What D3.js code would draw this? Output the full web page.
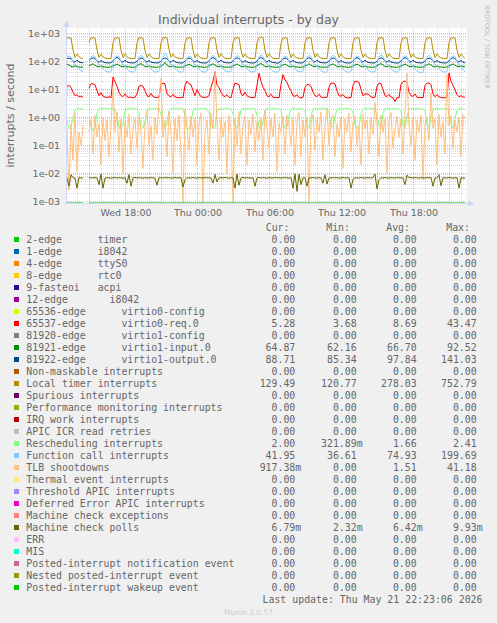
<!DOCTYPE html>
<html><head><meta charset="utf-8">
<script src="https://cdn.jsdelivr.net/npm/d3@7"></script>
<style>
body{margin:0;background:#F0F0F0}
svg{display:block}
</style>
</head><body><svg id="c" width="497" height="623"></svg>
<script>
// ---------------- DATA ----------------
// time axis: 200 samples, 10 minutes apart (two pixels each)
const startTime = Date.UTC(2026, 4, 20, 13, 5);
const endTime = Date.UTC(2026, 4, 21, 22, 25);
const sampleStepMin = 10;
const xTickLabels = ["Wed 18:00", "Thu 00:00", "Thu 06:00", "Thu 12:00", "Thu 18:00"];
const yTickLabels = ["1e-03", "1e-02", "1e-01", "1e+00", "1e+01", "1e+02", "1e+03"];

// Local timer interrupts
const localTimer = [700,705,690,260,140,185,148,131,129, null,null,
480,700,705,690,260,140,182,145,133,130,129,128,
470,695,700,700,250,138,190,148,132,130,127,129,
460,710,705,680,240,140,186,150,131,128,129,130,
460,700,720,700,270,142,188,146,133,131,128,127,
450,690,700,695,250,137,184,149,132,129,130,128,
470,705,710,690,260,141,192,147,130,128,127,129,
480,700,700,700,255,139,186,145,132,130,129,128,
460,700,752,705,250,140,188,150,131,129,127,128,
450,690,700,690,245,138,185,148,133,130,128,129,
470,700,705,700,255,141,190,146,132,128,127,128,
460,710,700,690,260,139,187,149,130,129,128,127,
470,700,705,695,250,140,184,147,131,130,129,128,
480,705,710,700,255,138,189,150,132,128,127,129,
460,700,700,690,250,140,186,145,131,129,128,128,
470,695,705,700,260,139,188,148,133,130,127,128,
470,700,705,690,255,140,185,150,129];

// 81922-edge virtio1-output.0
const virtioOut = [128,132,125,104,95,112,96,92,90, null,null,
108,124,136,127,104,94,109,96,91,90,88,90,
106,128,141,126,103,95,111,97,92,89,88,91,
104,122,133,129,106,96,108,95,91,90,89,90,
107,126,134,125,104,94,112,98,92,90,88,89,
105,123,132,128,105,95,110,96,90,89,88,90,
108,127,138,126,103,96,113,97,92,90,89,91,
106,125,135,127,104,94,109,95,91,89,88,90,
104,129,139,128,105,95,111,97,92,90,87,89,
107,124,133,125,103,96,110,96,91,89,88,90,
105,126,136,127,104,95,112,98,92,90,89,91,
106,123,134,128,106,94,109,96,90,89,88,90,
108,127,137,126,104,95,111,97,91,90,88,89,
105,125,135,127,103,96,110,95,92,89,87,90,
104,126,138,128,105,94,112,97,91,90,88,91,
107,124,133,125,104,95,109,96,92,89,88,90,
106,127,136,127,104,95,110,94,89];

// Function call interrupts
const funcCall = [150,158,145,98,74,72,54,46,43, null,null,
90,142,162,150,101,76,70,56,47,43,42,44,
82,138,158,152,99,74,72,54,45,44,41,46,
78,145,165,148,103,77,69,55,46,42,43,45,
84,140,199,155,100,75,73,57,47,43,42,44,
80,136,157,150,98,73,70,54,45,43,41,46,
83,142,163,149,102,76,71,56,46,44,42,45,
79,139,160,153,100,74,72,55,47,42,43,44,
81,144,168,151,104,78,70,53,45,43,41,45,
85,137,159,147,99,75,69,55,46,44,42,46,
80,141,162,152,101,73,72,57,47,43,40,44,
82,143,166,150,103,76,71,54,45,42,41,45,
78,138,158,149,98,74,70,56,46,43,42,44,
84,145,170,154,102,77,73,55,47,44,41,46,
80,140,161,148,100,75,69,54,45,42,40,43,
83,142,164,151,103,76,71,56,46,43,41,44,
81,139,160,150,99,74,70,52,42];

// 81921-edge virtio1-input.0
const virtioIn = [80,75,67,64,70,65,64,63,63, null,null,
70,77,83,73,66,64,71,65,63,62,63,64,
68,75,81,74,67,64,69,65,64,63,62,63,
69,78,84,75,66,65,70,64,63,63,62,64,
67,76,92,74,67,64,71,65,63,62,63,63,
68,74,80,73,66,64,70,65,64,63,62,64,
69,77,83,75,67,65,69,64,63,62,63,63,
68,75,82,74,66,64,71,65,63,63,62,64,
70,78,85,76,67,65,70,65,64,62,63,63,
67,76,81,73,66,64,69,64,63,63,62,64,
68,75,83,74,67,65,71,65,63,62,63,63,
69,77,82,75,66,64,70,65,64,63,62,64,
68,76,80,73,67,64,69,64,63,62,63,63,
70,78,84,76,66,65,71,65,63,63,62,64,
67,75,81,74,67,64,70,65,64,62,63,63,
68,77,83,75,66,64,69,64,63,63,62,64,
69,76,82,74,67,65,70,66,65];

// 65537-edge virtio0-req.0
const virtioReq = [13,14,12,8,6,6.5,5.5,5.8,5.3, null,null,
11,16,16,15,9,6,7.7,5.8,5.4,5.2,5.5,5.1,
28,19,13,8,6,5.6,7,5.5,5.2,5.4,5.0,5.3,
7,13,14,13,9,6,5.5,7.2,5.6,5.3,5.1,5.4,
15,17,16,7,6,5.5,6.8,5.4,5.2,5.0,5.3,5.1,
14,20,16,15,9,6,10,7,5.5,5.3,5.2,5.4,
6,12,20,43.5,14,12,8,6,5.6,6.5,5.3,5.1,
10,17,16,15,7,6,8,6,5.4,5.2,5.1,5.3,
14,38,20,12,9,6,5.5,6.8,5.3,5.1,5.2,5.0,
15,34,22,18,12,9,6,5.7,6.5,5.2,5.0,5.3,
12,15,15,13,8,6,5.6,6.8,5.4,5.1,5.3,5.2,
12,17,17,16,9,6,5.8,6.6,5.3,5.1,5.0,5.2,
14,20,19,18,10,6,6.8,7,6.5,5.4,5.2,5.3,
13,17,16,10,6,5.6,6.7,5.4,5.1,3.7,5.2,5.0,
15,19,20,18,8,6,5.7,6.9,5.3,5.1,5.2,5.0,
14,17,17,15,7,5.5,6.6,5.4,5.2,5.0,5.1,5.3,
39,20,14,10,6.5,5.5,6,5.4,5.28];

// Rescheduling interrupts
const resched = [0.7,0.4,0.45,1.0,1.9,2.05,2.1,2.05,2.0, null,null,
0.85,0.5,0.33,0.4,1.5,2.0,2.1,2.05,2.1,2.05,2.0,2.1,
2.1,2.0,1.2,0.45,0.4,0.6,1.9,2.1,2.05,2.1,2.0,2.05,
2.1,1.4,0.5,0.42,0.7,1.9,2.1,2.05,2.0,2.1,2.05,2.1,
1.3,0.5,0.4,0.7,1.8,2.1,2.05,2.1,2.0,2.05,2.1,2.0,
1.2,0.45,0.38,0.6,1.9,2.1,2.05,2.0,2.1,2.05,2.1,2.0,
1.5,0.55,0.4,0.45,1.6,2.05,2.1,2.0,2.05,2.1,2.0,2.05,
1.4,0.5,0.42,0.8,1.9,2.1,2.0,2.05,2.1,2.0,2.05,2.1,
1.2,0.45,0.4,0.7,1.9,2.05,2.1,2.0,2.05,2.1,2.0,2.05,
1.8,0.6,0.43,0.45,1.2,2.0,2.1,2.05,2.0,2.1,2.05,2.0,
1.7,0.5,0.42,1.0,2.0,2.1,2.05,2.0,2.1,2.05,2.0,2.1,
1.6,0.5,0.45,1.1,2.0,2.05,2.1,2.0,2.05,2.1,2.0,2.05,
1.5,0.55,0.42,0.45,1.3,2.0,2.1,2.05,2.0,2.05,2.1,2.0,
1.2,0.5,0.45,1.4,2.05,2.1,2.0,2.05,2.1,2.0,2.05,2.1,
1.6,0.5,0.42,1.1,2.0,2.1,2.05,2.0,2.1,2.05,2.0,2.05,
1.7,0.55,0.45,1.0,2.0,2.05,2.1,2.0,2.05,2.1,2.0,2.1,
1.8,0.6,0.42,0.9,1.9,2.05,2.1,2.0,2.0];

// TLB shootdowns
const tlb = [0.4,0.0025,0.6,0.03,1.5,0.012,0.3,0.1,0.5, null,null,
0.3,0.9,0.05,1.2,0.2,0.6,0.02,1.0,0.15,0.8,0.04,0.5,
12,0.3,1.5,0.06,0.9,0.01,0.7,0.2,1.3,0.05,0.4,0.9,
0.08,1.1,0.3,0.015,0.6,1.8,0.1,0.5,0.03,1.0,0.25,4.4,
25,0.2,0.8,0.04,1.6,0.3,0.01,0.9,0.15,1.2,0.05,0,
2.0,0.4,0.07,1.1,0.2,0.9,0.02,0.6,1.4,0,0.3,0.8,
0.05,1.5,0.4,41.18,0.6,0.03,1.0,0.2,0.7,0.01,1.2,0.35,
0,0.9,0.1,1.6,0.05,0.5,1.1,0.02,0.8,0.25,1.3,0.06,
0.7,0.15,1.0,0.03,1.8,0.4,0.08,0.9,0.2,1.4,0.012,0.6,
0.3,1.1,0.05,1.2,0.5,0.1,0.9,0.02,0.7,1.5,0.04,0.8,
0.2,1.0,0,0.6,1.3,0.07,0.9,0.3,1.6,0.03,0.5,2.2,
0.1,0.8,1.2,0.04,0.6,0.2,1.0,0.015,0.9,0.3,1.4,0.06,
0.7,1.1,0.1,0.5,0.02,1.3,0.4,0.8,0.05,1.0,0.25,3.4,
0.6,0.04,1.2,0.3,0.9,0.01,0.7,1.5,0.08,0.4,1.1,0.2,
0.9,0.05,1.4,38,0.5,0.1,1.0,0.03,0.8,0.3,1.2,0.006,
0.6,1.0,0.15,7.6,0.4,0.9,0.02,1.3,0.2,0.7,0.05,35,
0.5,1.1,0.08,0.8,0.3,1.0,0.04,1.3,0.917];

// Machine check polls
const mcePolls = [0.0070,0.0035,0.0090,0.0071,0.0069,0.0030,0.0072,0.0070,0.0068, null,null,
0.0071,0.0070,0.0069,0.0072,0.0070,0.0040,0.0095,0.0030,0.0069,0.0071,0.0070,0.0068,
0.0070,0.0072,0.0069,0.0071,0.0070,0.0068,0.0071,0.0045,0.0092,0.0035,0.0070,0.0072,
0.0069,0.0071,0.0070,0.0068,0.0071,0.0070,0.0069,0.0072,0.0070,0.0068,0.0038,0.0071,
0.0070,0.0069,0.0072,0.0070,0.0071,0.0068,0.0070,0.0072,0.0069,0.0071,0.0070,0.0033,
0.0060,0.0071,0.0070,0.0069,0.0072,0.0070,0.0068,0.0071,0.0070,0.0069,0.0072,0.0070,
0.0071,0.0069,0.0045,0.0092,0.0050,0.0070,0.0071,0.0069,0.0072,0.0070,0.0068,0.0071,
0.0070,0.0030,0.0095,0.0038,0.0070,0.0072,0.0069,0.0071,0.0070,0.0068,0.0071,0.0035,
0.0070,0.0072,0.0069,0.0071,0.0070,0.0068,0.0071,0.0070,0.0069,0.0072,0.0070,0.0071,
0.0069,0.0070,0.0072,0.0070,0.0068,0.0071,0.0030,0.0098,0.0023,0.0093,0.0040,0.0070,
0.0071,0.0035,0.0070,0.0069,0.0072,0.0070,0.0068,0.0071,0.0070,0.0045,0.0090,0.0042,
0.0070,0.0069,0.0072,0.0070,0.0071,0.0068,0.0070,0.0072,0.0069,0.0071,0.0070,0.0030,
0.0062,0.0071,0.0070,0.0069,0.0072,0.0070,0.0068,0.0071,0.0070,0.0069,0.0072,0.0095,
0.0028,0.0060,0.0071,0.0069,0.0072,0.0070,0.0068,0.0071,0.0070,0.0069,0.0072,0.0070,
0.0071,0.0069,0.0040,0.0088,0.0070,0.0072,0.0069,0.0071,0.0070,0.0068,0.0071,0.0070,
0.0069,0.0072,0.0070,0.0071,0.0035,0.0069,0.0070,0.0090,0.0036,0.0071,0.0070,0.0069,
0.0072,0.0070,0.0068,0.0071,0.0070,0.0030,0.0071,0.0069,0.00679];

// legend
const legendLabels = ["2-edge      timer","1-edge      i8042","4-edge      ttyS0","8-edge      rtc0",
"9-fasteoi   acpi","12-edge       i8042","65536-edge      virtio0-config","65537-edge      virtio0-req.0",
"81920-edge      virtio1-config","81921-edge      virtio1-input.0","81922-edge      virtio1-output.0",
"Non-maskable interrupts","Local timer interrupts","Spurious interrupts","Performance monitoring interrupts",
"IRQ work interrupts","APIC ICR read retries","Rescheduling interrupts","Function call interrupts",
"TLB shootdowns","Thermal event interrupts","Threshold APIC interrupts","Deferred Error APIC interrupts",
"Machine check exceptions","Machine check polls","ERR","MIS","Posted-interrupt notification event",
"Nested posted-interrupt event","Posted-interrupt wakeup event"];
const legendColors = ["#00CC00","#0066B3","#FF8000","#FFCC00","#330099","#990099","#CCFF00","#FF0000",
"#808080","#008F00","#00487D","#B35A00","#B38F00","#6B006B","#8FB300","#B30000","#BEBEBE","#80FF80",
"#80C9FF","#FFC080","#FFE680","#AA80FF","#EE00CC","#FF8080","#666600","#FFBFFF","#00FFCC","#CC6699",
"#999900","#00CC00"];
const Z = "0.00";
const curVals = [Z,Z,Z,Z,Z,Z,Z,"5.28",Z,"64.87","88.71",Z,"129.49",Z,Z,Z,Z,"2.00","41.95","917.38m",Z,Z,Z,Z,"6.79m",Z,Z,Z,Z,Z];
const minVals = [Z,Z,Z,Z,Z,Z,Z,"3.68",Z,"62.16","85.34",Z,"120.77",Z,Z,Z,Z,"321.89m","36.61",Z,Z,Z,Z,Z,"2.32m",Z,Z,Z,Z,Z];
const avgVals = [Z,Z,Z,Z,Z,Z,Z,"8.69",Z,"66.70","97.84",Z,"278.03",Z,Z,Z,Z,"1.66","74.93","1.51",Z,Z,Z,Z,"6.42m",Z,Z,Z,Z,Z];
const maxVals = [Z,Z,Z,Z,Z,Z,Z,"43.47",Z,"92.52","141.03",Z,"752.79",Z,Z,Z,Z,"2.41","199.69","41.18",Z,Z,Z,Z,"9.93m",Z,Z,Z,Z,Z];
const statHeaders = ["Cur:","Min:","Avg:","Max:"];

// ---------------- DRAW ----------------
const svg = d3.select("#c");
const P = {x0: 67, x1: 467, y0: 28, y1: 203};
const FONT = "'DejaVu Sans', Verdana, sans-serif";
const MONO = "'DejaVu Sans Mono', monospace";
const TXT = "#666666";
const MINOR = "rgba(170,170,170,0.42)";
const MAJOR = "rgba(230,110,110,0.5)";

svg.append("rect").attr("width", 497).attr("height", 623).attr("fill", "#F0F0F0");
svg.append("rect").attr("x", P.x0).attr("y", P.y0).attr("width", P.x1 - P.x0).attr("height", P.y1 - P.y0).attr("fill", "#FFFFFF");

const x = d3.scaleUtc().domain([new Date(startTime), new Date(endTime)]).range([P.x0, P.x1]);
const y = d3.scaleLog().domain([1e-3, 1e3]).range([201.5, 33.5]);
const times = localTimer.map((_, i) => new Date(startTime + i * sampleStepMin * 60000));

// grid
const gridG = svg.append("g").attr("shape-rendering", "crispEdges");
const minorVals = [];
for (let d = -3; d < 3; d++) for (let k = 2; k <= 9; k++) minorVals.push(k * Math.pow(10, d));
minorVals.forEach(v => {
  const yy = Math.round(y(v) - 0.5) + 0.5;
  gridG.append("line").attr("x1", P.x0).attr("x2", P.x1).attr("y1", yy).attr("y2", yy)
    .attr("stroke", MINOR).attr("stroke-dasharray", "1,1");
});
const hourTicks = d3.utcHour.range(new Date(startTime), new Date(endTime));
hourTicks.forEach(t => {
  if (t.getUTCHours() % 3 === 0) return;
  const xx = Math.round(x(t)) - 0.5;
  gridG.append("line").attr("x1", xx).attr("x2", xx).attr("y1", P.y0).attr("y2", P.y1)
    .attr("stroke", MINOR).attr("stroke-dasharray", "1,1");
});
const majorVals = yTickLabels.map(s => +s);
majorVals.forEach(v => {
  const yy = y(v);
  gridG.append("line").attr("x1", P.x0).attr("x2", P.x1).attr("y1", yy).attr("y2", yy)
    .attr("stroke", MAJOR).attr("stroke-dasharray", "1,1");
});
hourTicks.filter(t => t.getUTCHours() % 3 === 0).forEach(t => {
  const xx = Math.round(x(t)) - 0.5;
  gridG.append("line").attr("x1", xx).attr("x2", xx).attr("y1", P.y0).attr("y2", P.y1)
    .attr("stroke", MAJOR).attr("stroke-dasharray", "1,1");
});

// series
const yv = v => v <= 0 ? P.y1 : Math.max(P.y0, Math.min(P.y1, y(v)));
const line = d3.line().defined(d => d.v !== null).x(d => x(d.t)).y(d => yv(d.v));
const zeroLine = localTimer.map(v => v === null ? null : 0);
const series = [
  {vals: virtioReq, color: "#FF0000"},
  {vals: virtioIn, color: "#008F00"},
  {vals: virtioOut, color: "#00487D"},
  {vals: localTimer, color: "#B38F00"},
  {vals: resched, color: "#80FF80"},
  {vals: funcCall, color: "#80C9FF"},
  {vals: tlb, color: "#FFC080"},
  {vals: mcePolls, color: "#666600"},
  {vals: zeroLine, color: "#00CC00"}
];
const dataG = svg.append("g");
series.forEach(s => {
  dataG.append("path").attr("d", line(s.vals.map((v, i) => ({t: times[i], v}))))
    .attr("fill", "none").attr("stroke", s.color).attr("stroke-width", 1);
});

// axes
const AX = "#CFD6F8";
svg.append("line").attr("x1", 66.5).attr("x2", 66.5).attr("y1", P.y1 + 1).attr("y2", 24).attr("stroke", AX);
svg.append("path").attr("d", "M63.5,27 L66.5,20 L69.5,27 Z").attr("fill", AX);
svg.append("line").attr("x1", 64).attr("x2", 470).attr("y1", 203.5).attr("y2", 203.5).attr("stroke", AX);
svg.append("path").attr("d", "M468,200.5 L475,203.5 L468,206.5 Z").attr("fill", AX);

// y labels
yTickLabels.forEach(s => {
  svg.append("text").attr("x", 60).attr("y", y(+s) + 3.5).attr("text-anchor", "end")
    .attr("font-family", FONT).attr("font-size", 9.5).attr("fill", TXT).text(s);
});
// x labels
xTickLabels.forEach((s, i) => {
  const t = new Date(Date.UTC(2026, 4, 20, 18 + 6 * i, 0));
  svg.append("text").attr("x", x(t)).attr("y", 216).attr("text-anchor", "middle")
    .attr("font-family", FONT).attr("font-size", 9.5).attr("fill", TXT).text(s);
});

// title and axis label
svg.append("text").attr("x", 248.5).attr("y", 24).attr("text-anchor", "middle")
  .attr("font-family", FONT).attr("font-size", 12.5).attr("fill", TXT).text("Individual interrupts - by day");
svg.append("text").attr("transform", "translate(14,115.5) rotate(-90)").attr("text-anchor", "middle")
  .attr("font-family", FONT).attr("font-size", 11).attr("fill", TXT).text("interrupts / second");
svg.append("text").attr("transform", "translate(485,5) rotate(90)").attr("text-anchor", "start")
  .attr("font-family", FONT).attr("font-size", 6.5).attr("fill", "#BBBBBB").text("RRDTOOL / TOBI OETIKER");

// legend
const headerRight = [289.5, 350, 410, 470];
const numRight = [295.3, 356.7, 416.7, 476.7];
statHeaders.forEach((h, i) => {
  svg.append("text").attr("x", headerRight[i]).attr("y", 231).attr("text-anchor", "end")
    .attr("font-family", MONO).attr("font-size", 9.9).attr("fill", TXT).text(h);
});
const cols = [curVals, minVals, avgVals, maxVals];
legendLabels.forEach((lab, r) => {
  const by = 243 + 12 * r;
  svg.append("rect").attr("x", 14).attr("y", 237 + 12 * r).attr("width", 5).attr("height", 5).attr("fill", legendColors[r]);
  svg.append("text").attr("x", 26.3).attr("y", by).attr("font-family", MONO).attr("font-size", 9.9)
    .attr("fill", TXT).style("white-space", "pre").text(lab);
  cols.forEach((col, c) => {
    let s = col[r], suf = "";
    if (s.endsWith("m")) { suf = "m"; s = s.slice(0, -1); }
    svg.append("text").attr("x", numRight[c]).attr("y", by).attr("text-anchor", "end")
      .attr("font-family", MONO).attr("font-size", 9.9).attr("fill", TXT).text(s);
    if (suf) svg.append("text").attr("x", numRight[c]).attr("y", by)
      .attr("font-family", MONO).attr("font-size", 9.9).attr("fill", TXT).text(suf);
  });
});
svg.append("text").attr("x", 482.5).attr("y", 603).attr("text-anchor", "end")
  .attr("font-family", MONO).attr("font-size", 9.9).attr("fill", TXT).text("Last update: Thu May 21 22:23:06 2026");
svg.append("text").attr("x", 248.5).attr("y", 614.5).attr("text-anchor", "middle")
  .attr("font-family", FONT).attr("font-size", 7.5).attr("fill", "#CCCCCC").text("Munin 2.0.57");
</script></body></html>
